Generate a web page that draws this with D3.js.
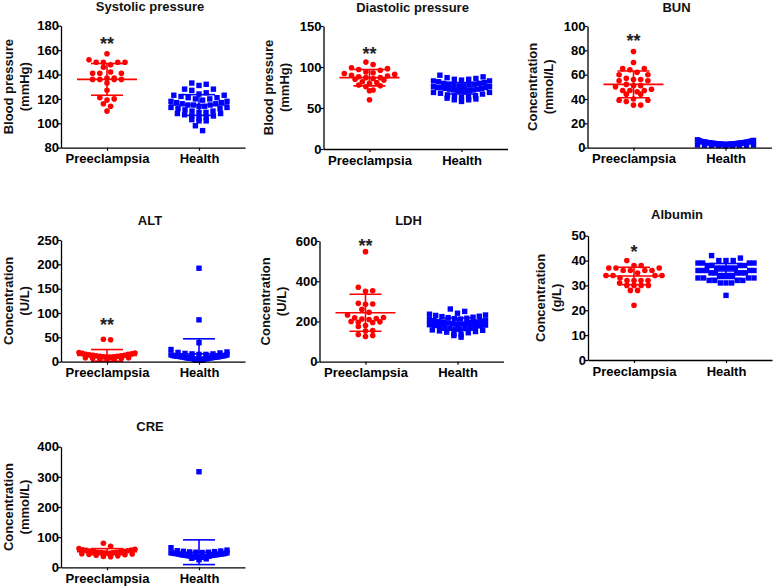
<!DOCTYPE html>
<html>
<head>
<meta charset="utf-8">
<script src="https://cdn.jsdelivr.net/npm/d3@7"></script>
<style>
  body { margin: 0; background: #fff; }
  text { font-family: "Liberation Sans", Arial, sans-serif; }
</style>
</head>
<body>
<div id="chart"></div>
<script>
// ---- data ----
var panelTitles = ["Systolic pressure", "Diastolic pressure", "BUN", "ALT", "LDH", "Albumin", "CRE"];
var yTitles = [["Blood pressure", "(mmHg)"], ["Blood pressure", "(mmHg)"], ["Concentration", "(mmol/L)"],
  ["Concentration", "(U/L)"], ["Concentration", "(U/L)"], ["Concentration", "(g/L)"], ["Concentration", "(mmol/L)"]];
var groups = ["Preeclampsia", "Health"];
var yTicks = [[80, 100, 120, 140, 160, 180], [0, 50, 100, 150], [0, 20, 40, 60, 80, 100],
  [0, 50, 100, 150, 200, 250], [0, 200, 400, 600], [0, 10, 20, 30, 40, 50], [0, 100, 200, 300, 400]];

var preValues = [
  [157, 152, 150, 150, 150, 150, 148, 146, 142, 141, 141, 141, 137, 136, 136, 137, 136, 136, 133, 127, 121, 119, 120, 116, 114, 110],
  [106, 103, 99, 98, 97, 96, 94, 93, 92, 91, 90, 89, 88, 87, 87, 86, 85, 84, 82, 81, 80, 78, 77, 76, 72, 71, 60],
  [79, 70, 65, 65, 64, 62, 60, 60, 57, 56, 56, 55, 55, 52, 51, 51, 50, 48, 47, 47, 47, 46, 44, 44, 40, 39, 39, 38, 35, 35],
  [46, 45, 19, 18, 17, 16, 15, 15, 14, 13, 13, 12, 12, 11, 11, 10, 10, 9, 9, 8, 8, 7, 7, 6, 5, 5],
  [547, 370, 353, 350, 290, 287, 285, 260, 245, 232, 220, 218, 215, 212, 210, 200, 198, 196, 195, 180, 175, 155, 152, 135, 125, 130],
  [40, 38, 38, 37, 37, 37, 36, 36, 36, 36, 35, 34, 34, 34, 34, 33, 32, 32, 32, 32, 31, 30, 30, 30, 30, 28, 28, 22],
  [80, 70, 62, 60, 58, 57, 56, 55, 54, 53, 52, 51, 50, 50, 49, 48, 47, 46, 45, 44, 43, 42, 40, 38, 36, 35]
];
var healthValues = [
  [133, 132, 131, 128, 128, 127, 125, 124, 123, 123, 122, 121, 121, 120, 120, 119, 118, 118, 117, 117, 116, 116, 115, 115,
   115, 114, 114, 113, 113, 112, 112, 111, 110, 110, 109, 109, 108, 108, 107, 106, 106, 105, 104, 103, 102, 102, 98, 94],
  [90, 88, 87, 86, 85, 85, 84, 83, 83, 82, 81, 80, 80, 79, 79, 78, 78, 77, 77, 76, 76, 75, 75, 75,
   74, 74, 73, 73, 72, 72, 71, 71, 70, 70, 69, 69, 68, 67, 66, 65, 65, 64, 63, 62, 61, 60, 60, 58],
  [6.5, 6, 5.8, 5.5, 5.3, 5, 5, 4.8, 4.6, 4.5, 4.4, 4.2, 4, 4, 3.9, 3.8, 3.7, 3.6, 3.5, 3.5, 3.4, 3.3, 3.2, 3.1,
   3, 3, 2.9, 2.8, 2.7, 2.6, 2.5, 2.5, 2.4, 2.3, 2.2, 2.1, 2, 2, 1.9, 1.8, 1.7, 1.6, 4.1, 3.6, 3.2, 2.8, 5.2, 4.7],
  [192, 86, 39, 25, 20, 19, 18, 17, 16, 16, 15, 15, 14, 14, 13, 13, 12, 12, 12, 11, 11, 11, 10, 10,
   10, 9, 9, 9, 8, 8, 8, 8, 7, 7, 7, 6, 6, 6, 5, 5, 5, 4, 4, 4, 3, 3, 12, 10],
  [262, 250, 241, 236, 232, 230, 226, 224, 221, 219, 216, 214, 212, 209, 206, 204, 202, 200, 198, 197, 195, 193, 191, 189,
   187, 186, 184, 182, 180, 178, 176, 174, 172, 170, 167, 165, 162, 160, 158, 156, 153, 150, 147, 144, 140, 136, 130, 122],
  [42, 41, 40, 40, 40, 39, 39, 39, 39, 38, 38, 38, 38, 37, 37, 37, 37, 37, 36, 36, 36, 36, 36, 35,
   35, 35, 35, 35, 34, 34, 34, 34, 33, 33, 33, 33, 32, 32, 32, 32, 31, 31, 31, 26],
  [317, 65, 57, 55, 54, 53, 52, 51, 50, 50, 49, 48, 47, 46, 45, 45, 44, 43, 42, 42, 41, 40, 40, 39,
   38, 37, 36, 35, 35, 34, 33, 32, 30, 28, 25, 48, 46, 44, 41, 39, 37, 36, 34]
];
var preMean = [136, 87, 52, 13, 243, 33.8, 52];
var preSD = [13, 10, 11, 12, 92, 3.5, 10];
var healthMean = [115, 74, 3.5, 16, 187, 35.8, 50];
var healthSD = [8.5, 7, 1, 31, 30, 3, 41];
var sigMarks = ["**", "**", "**", "**", "**", "*", ""];
var sigAt = [168, 121, 91, 84, 595, 45, null];

// ---- layout (pixel positions of each panel) ----
var layout = [
  {ax: 61, yt: 25.7, yb: 147.7, tdy: -14.5, yl: -48},
  {ax: 323.5, yt: 26, yb: 149, tdy: -14.5, yl: -51},
  {ax: 587.5, yt: 26, yb: 147.7, tdy: -14.5, yl: -51},
  {ax: 61, yt: 240, yb: 361.7, tdy: -15.5, yl: -48.5},
  {ax: 319.5, yt: 241, yb: 361.7, tdy: -16, yl: -50},
  {ax: 588, yt: 235.7, yb: 360, tdy: -17, yl: -43.5},
  {ax: 61, yt: 446.7, yb: 567.3, tdy: -15.7, yl: -48.5}
];
var axisLen = 184;
var colors = {Preeclampsia: "#ff0000", Health: "#0000ff"};

var svg = d3.select("#chart").append("svg")
  .attr("width", 777).attr("height", 588)
  .style("background", "#fff");

// prism-like scatter: bin by pixel row, spread horizontally within a row
function swarm(vals, y, step, maxHalf, binH) {
  var pts = vals.map(function(v) { return {v: v, py: y(v)}; })
    .sort(function(a, b) { return a.py - b.py; });
  var rows = [], cur = null;
  pts.forEach(function(p) {
    if (!cur || p.py - cur.start > binH) { cur = {start: p.py, items: []}; rows.push(cur); }
    cur.items.push(p);
  });
  rows.forEach(function(r) {
    var n = r.items.length;
    var s = n > 1 ? Math.min(step, 2 * maxHalf / (n - 1)) : 0;
    // zigzag the order so a row does not slant
    r.items.forEach(function(p, i) {
      var slot = (i % 2 === 0) ? i / 2 : n - 1 - (i - 1) / 2;
      p.dx = (slot - (n - 1) / 2) * s;
    });
  });
  return pts;
}

panelTitles.forEach(function(title, i) {
  var L = layout[i];
  var ticks = yTicks[i];
  var y = d3.scaleLinear().domain([ticks[0], ticks[ticks.length - 1]]).range([L.yb, L.yt]);
  var x = d3.scalePoint().domain(groups).range([L.ax, L.ax + axisLen]).padding(0.5);
  var g = svg.append("g");

  // title
  g.append("text").attr("x", L.ax + axisLen / 2 - 3).attr("y", L.yt + L.tdy)
    .attr("text-anchor", "middle").style("font-size", "13px").style("font-weight", "bold")
    .attr("fill", "#111").text(title);

  // y axis title (two lines)
  yTitles[i].forEach(function(t, k) {
    g.append("text")
      .attr("transform", "translate(" + (L.ax + L.yl + k * 16) + "," + ((L.yt + L.yb) / 2) + ") rotate(-90)")
      .attr("text-anchor", "middle").style("font-size", "13px").style("font-weight", "bold")
      .attr("fill", "#111").text(t);
  });

  // points
  var stats = [[preValues[i], preMean[i], preSD[i]], [healthValues[i], healthMean[i], healthSD[i]]];
  groups.forEach(function(grp, j) {
    var cx = x(grp);
    var pts = swarm(stats[j][0], y, 7.2, 28, 5);
    if (j === 0) {
      g.selectAll(null).data(pts).enter().append("circle")
        .attr("cx", function(d) { return cx + d.dx; })
        .attr("cy", function(d) { return d.py; })
        .attr("r", 2.8).attr("fill", colors[grp]);
    } else {
      g.selectAll(null).data(pts).enter().append("rect")
        .attr("x", function(d) { return cx + d.dx - 2.7; })
        .attr("y", function(d) { return d.py - 2.7; })
        .attr("width", 5.4).attr("height", 5.4).attr("fill", colors[grp]);
    }
  });

  // mean +- SD
  groups.forEach(function(grp, j) {
    var cx = x(grp), m = stats[j][1], sd = stats[j][2];
    var lo = Math.max(m - sd, ticks[0]), hi = m + sd;
    var c = colors[grp];
    g.append("line").attr("x1", cx).attr("x2", cx).attr("y1", y(lo)).attr("y2", y(hi))
      .attr("stroke", c).attr("stroke-width", 1.6);
    g.append("line").attr("x1", cx - 30).attr("x2", cx + 30).attr("y1", y(m)).attr("y2", y(m))
      .attr("stroke", c).attr("stroke-width", 1.6);
    g.append("line").attr("x1", cx - 16).attr("x2", cx + 16).attr("y1", y(hi)).attr("y2", y(hi))
      .attr("stroke", c).attr("stroke-width", 1.6);
    if (m - sd >= ticks[0]) {
      g.append("line").attr("x1", cx - 16).attr("x2", cx + 16).attr("y1", y(m - sd)).attr("y2", y(m - sd))
        .attr("stroke", c).attr("stroke-width", 1.6);
    }
  });

  // significance stars
  if (sigMarks[i]) {
    g.append("text").attr("x", x(groups[0])).attr("y", y(sigAt[i]) + 10)
      .attr("text-anchor", "middle").style("font-size", "18px").style("font-weight", "bold")
      .attr("fill", "#222").text(sigMarks[i]);
  }

  // axes
  var yAxis = g.append("g").attr("transform", "translate(" + L.ax + ",0)")
    .call(d3.axisLeft(y).tickValues(ticks).tickSize(3).tickSizeOuter(0).tickPadding(-1));
  var xAxis = g.append("g").attr("transform", "translate(0," + L.yb + ")")
    .call(d3.axisBottom(x).tickSize(3).tickSizeOuter(0).tickPadding(3.3));
  [yAxis, xAxis].forEach(function(a) {
    a.select(".domain").attr("stroke", "#000").attr("stroke-width", 1.3);
    a.selectAll(".tick line").attr("stroke", "#000").attr("stroke-width", 1.2);
    a.selectAll("text").style("font-size", "13px").style("font-weight", "bold")
      .style("font-family", "'Liberation Sans', Arial, sans-serif").attr("fill", "#000");
  });
});
</script>
</body>
</html>
